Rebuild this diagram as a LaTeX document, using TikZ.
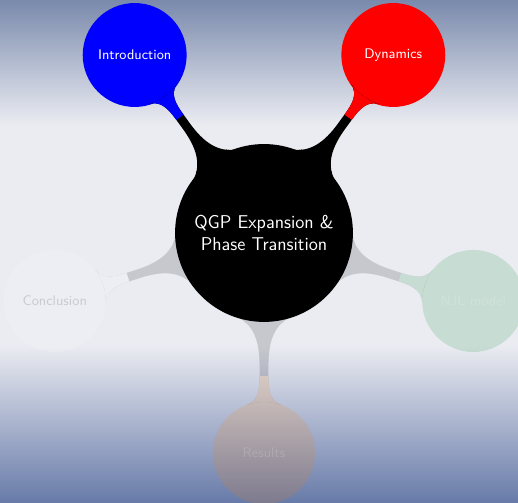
\documentclass[tikz,border=0pt]{standalone}
\usepackage{tikz}
\usetikzlibrary{mindmap,positioning}
\definecolor{bgtop}{RGB}{122,138,172}
\definecolor{bglight}{RGB}{235,236,242}
\definecolor{bgbottom}{RGB}{103,122,168}
\definecolor{njl}{RGB}{0,140,40}
\definecolor{res}{RGB}{255,128,0}

% bar from the root to a topic: black, in the topic colour near the topic
\newcommand{\topicbar}[2]{%
  \path (qgp) to[circle connection bar switch color=from (black) to (black)] (#1);
  \begin{scope}
    \clip (#1) circle (1.75cm);
    \path (qgp) to[circle connection bar switch color=from (#2) to (#2)] (#1);
  \end{scope}}

\begin{document}
\begin{tikzpicture}[
  mindmap,
  root/.style={concept, concept color=black, minimum size=4cm, text width=3.6cm, font=\sffamily\large, text=white},
  topic/.style={concept, minimum size=2.32cm, text width=2.1cm, font=\sffamily\small, text=white},
  faded/.style={draw=none, opacity=0.15},
  fadedbar/.style={transparency group, opacity=0.15}
]
  % background
  \useasboundingbox (-6,-6.136) rectangle (5.773,5.295);
  \shade[top color=bgtop, bottom color=bglight] (-6,2.454) rectangle (5.773,5.295);
  \fill[bglight] (-6,-2.546) rectangle (5.773,2.454);
  \shade[top color=bglight, bottom color=bgbottom] (-6,-6.136) rectangle (5.773,-2.546);

  % mindmap
  \node[root] (qgp) at (0,0) {QGP Expansion \& Phase Transition};

  \node[topic, concept color=blue] (intro) at (126:5cm) {Introduction};
  \topicbar{intro}{blue}
  \node[topic, concept color=red] (dyn) at (54:5cm) {Dynamics};
  \topicbar{dyn}{red}

  \node[topic, faded, concept color=njl] (njl) at (-18:5cm) {NJL model};
  \node[topic, faded, concept color=res] (res) at (-90:5cm) {Results};
  \node[topic, faded, concept color=white, text=black] (concl) at (198:5cm) {Conclusion};
  \begin{scope}[fadedbar]
    \topicbar{njl}{njl}
  \end{scope}
  \begin{scope}[fadedbar]
    \topicbar{res}{res}
  \end{scope}
  \begin{scope}[fadedbar]
    \topicbar{concl}{white}
  \end{scope}
\end{tikzpicture}
\end{document}
